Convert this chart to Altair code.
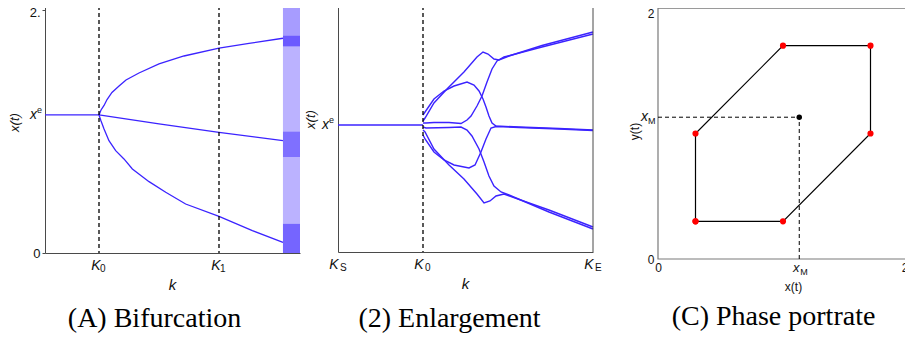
import altair as alt
import pandas as pd

BLUE = "#3b23ff"
AXIS_GRAY = "#4a4a4a"
FRAME_GRAY = "#7a7a7a"
SANS = "Liberation Sans"
SERIF = "Liberation Serif"

# ---------------- Panel A : bifurcation diagram ----------------
A_K_TICKS = [1.0, 2.0]
A_K_SUBS = ["0", "1"]
A_K_RANGE = [0.55, 2.675]
A_V_RANGE = [0.0, 2.09]
A_XE = 1.136

A_flat_k = [0.55, 1.0]
A_flat_v = [1.136, 1.136]
A_up_k = [1.0, 1.017, 1.042, 1.067, 1.108, 1.167, 1.225, 1.333, 1.5, 1.708, 2.0, 2.25, 2.533]
A_up_v = [1.136, 1.177, 1.214, 1.263, 1.321, 1.374, 1.424, 1.481, 1.556, 1.621, 1.685, 1.724, 1.767]
A_mid_k = [1.0, 1.5, 2.0, 2.533]
A_mid_v = [1.136, 1.063, 0.993, 0.924]
A_low_k = [1.0, 1.017, 1.042, 1.083, 1.139, 1.208, 1.278, 1.417, 1.556, 1.722, 2.0, 2.278, 2.533]
A_low_v = [1.136, 1.086, 1.021, 0.924, 0.842, 0.774, 0.691, 0.587, 0.5, 0.403, 0.302, 0.184, 0.088]

# chaotic region after the last bifurcation, drawn as density bands
A_chaos_k = [2.533, 2.675]
A_chaos_lo = [0.0, 0.24, 0.79, 1.0, 1.70, 1.79]
A_chaos_hi = [0.24, 0.79, 1.0, 1.70, 1.79, 2.04]
A_chaos_density = [0.7, 0.35, 0.65, 0.35, 0.75, 0.45]

# ---------------- Panel B : enlargement ----------------
B_K_TICKS = [0.0, 1.0, 3.0]
B_K_SUBS = ["S", "0", "E"]
B_K_RANGE = [0.0, 3.0]
B_V_RANGE = [0.0, 2.53]
B_XE = 1.27
B_K0 = 1.0
B_KE = 3.0

B_flat_k = [0.0, 1.0]
B_flat_v = [1.27, 1.27]
B_ua_k = [1.0, 1.024, 1.129, 1.282, 1.482, 1.635, 1.706, 1.765, 1.835, 1.894, 2.012, 2.4, 3.0]
B_ua_v = [1.31, 1.34, 1.49, 1.63, 1.80, 1.95, 2.00, 1.98, 1.93, 1.92, 1.96, 2.065, 2.20]
B_ub_k = [1.0, 1.024, 1.129, 1.247, 1.365, 1.518, 1.6, 1.659, 1.706, 1.741, 1.776, 1.812, 1.859, 2.129, 2.6, 3.0]
B_ub_v = [1.37, 1.40, 1.53, 1.61, 1.66, 1.70, 1.67, 1.61, 1.53, 1.45, 1.36, 1.29, 1.26, 1.25, 1.235, 1.22]
B_uc_k = [1.0, 1.035, 1.129, 1.306, 1.447, 1.518, 1.565, 1.635, 1.694, 1.753, 1.812, 1.871, 1.953, 2.4, 3.0]
B_uc_v = [1.29, 1.29, 1.295, 1.295, 1.285, 1.32, 1.36, 1.46, 1.56, 1.70, 1.83, 1.91, 1.95, 2.05, 2.18]
B_la_k = [1.0, 1.024, 1.129, 1.306, 1.482, 1.635, 1.718, 1.788, 1.859, 1.953, 2.482, 3.0]
B_la_v = [1.22, 1.20, 1.03, 0.87, 0.73, 0.58, 0.49, 0.51, 0.56, 0.58, 0.42, 0.25]
B_lb_k = [1.0, 1.024, 1.129, 1.247, 1.365, 1.541, 1.612, 1.682, 1.741, 1.8, 1.859, 2.129, 2.6, 3.0]
B_lb_v = [1.17, 1.13, 1.00, 0.92, 0.87, 0.84, 0.87, 1.00, 1.13, 1.24, 1.255, 1.245, 1.23, 1.215]
B_lc_k = [1.0, 1.035, 1.306, 1.447, 1.518, 1.576, 1.659, 1.718, 1.776, 1.835, 1.918, 2.012, 2.482, 3.0]
B_lc_v = [1.25, 1.24, 1.245, 1.25, 1.22, 1.16, 1.03, 0.90, 0.76, 0.66, 0.60, 0.57, 0.40, 0.23]

# ---------------- Panel C : phase portrait ----------------
C_RANGE_X = [-0.216, 2.0]
C_RANGE_Y = [0.0, 2.072]
C_XM = 1.13
C_orbit_x = [0.3, 1.0, 1.7, 1.7, 1.0, 0.3, 0.3]
C_orbit_y = [0.3, 0.3, 1.0, 1.7, 1.7, 1.0, 0.3]

# layout (pixels)
A_W, A_H = 255, 254
B_W, B_H = 255, 253
C_W, C_H = 277, 260
C_INSET = 27  # frame starts this far inside the C plot area


def curves(named):
    rows = []
    for name, ks, vs in named:
        for i, (k, v) in enumerate(zip(ks, vs)):
            rows.append({"curve": name, "i": i, "k": k, "v": v})
    return pd.DataFrame(rows)


def sub_labels(ticks, subs, main, h, dx_main, sub_dx, sub_dy, xscale):
    df = pd.DataFrame({"k": ticks, "main": [main] * len(ticks), "sub": subs})
    m = alt.Chart(df).mark_text(font=SANS, fontStyle="italic", fontSize=14, align="center",
                                baseline="top", dx=dx_main, color="#111").encode(
        x=alt.X("k:Q", scale=xscale), y=alt.value(h + 6), text="main:N")
    s = alt.Chart(df).mark_text(font=SANS, fontSize=10, align="left", baseline="top",
                                dx=sub_dx, color="#111").encode(
        x=alt.X("k:Q", scale=xscale), y=alt.value(h + 6 + sub_dy), text="sub:N")
    return m + s


def left_label(value, main, small, small_dy, yscale, xpix):
    df = pd.DataFrame({"v": [value], "main": [main], "small": [small]})
    m = alt.Chart(df).mark_text(font=SANS, fontStyle="italic", fontSize=14, align="right",
                                baseline="middle", color="#111").encode(
        x=alt.value(xpix), y=alt.Y("v:Q", scale=yscale), text="main:N")
    s = alt.Chart(df).mark_text(font=SANS, fontSize=9, align="left", baseline="middle",
                                dy=small_dy, color="#111").encode(
        x=alt.value(xpix), y=alt.Y("v:Q", scale=yscale), text="small:N")
    return m + s


def caption(text, offset, dx):
    return alt.TitleParams(text, orient="bottom", font=SERIF, fontSize=28, fontWeight="normal",
                           color="black", baseline="alphabetic", offset=offset, dx=dx)


# ---------- Panel A ----------
sxA = alt.Scale(domain=A_K_RANGE, nice=False, zero=False)
syA = alt.Scale(domain=A_V_RANGE, nice=False, zero=False)
dfA = curves([("flat", A_flat_k, A_flat_v), ("up", A_up_k, A_up_v),
              ("mid", A_mid_k, A_mid_v), ("low", A_low_k, A_low_v)])
linesA = alt.Chart(dfA).mark_line(color=BLUE, strokeWidth=1.3).encode(
    x=alt.X("k:Q", scale=sxA, axis=alt.Axis(
        labels=False, ticks=False, grid=False, domainColor=AXIS_GRAY, title="k",
        titleFont=SANS, titleFontStyle="italic", titleFontWeight="normal", titleFontSize=15,
        titleColor="#111", titleX=127, titleY=31, titleAlign="center", titleBaseline="middle")),
    y=alt.Y("v:Q", scale=syA, axis=alt.Axis(
        values=[0, 2], labelExpr="datum.value == 2 ? '2.' : '0'", tickSize=3,
        tickColor=AXIS_GRAY, domainColor=AXIS_GRAY, grid=False, labelFont=SANS,
        labelFontSize=13, labelColor="#111", labelPadding=2,
        labelOffset={"condition": {"test": "datum.value == 2", "value": 3}, "value": 0},
        title="x(t)",
        titleFont=SANS, titleFontStyle="italic", titleFontWeight="normal", titleFontSize=13,
        titleColor="#111", titleX=-31, titleY=123, titleAngle=-90, titleAlign="center",
        titleBaseline="middle")),
    detail="curve:N", order="i:Q")
chaosA = alt.Chart(pd.DataFrame({
    "k": [A_chaos_k[0]] * len(A_chaos_lo), "k2": [A_chaos_k[1]] * len(A_chaos_lo),
    "v": A_chaos_lo, "v2": A_chaos_hi, "density": A_chaos_density})).mark_rect(color=BLUE).encode(
    x=alt.X("k:Q", scale=sxA), x2="k2:Q", y=alt.Y("v:Q", scale=syA), y2="v2:Q",
    opacity=alt.Opacity("density:Q", scale=None, legend=None))
dashA = alt.Chart(pd.DataFrame({"k": A_K_TICKS})).mark_rule(
    color="black", strokeDash=[4, 3], strokeWidth=1.3).encode(x=alt.X("k:Q", scale=sxA))
panelA = alt.layer(
    chaosA, linesA, dashA,
    sub_labels(A_K_TICKS, A_K_SUBS, "K", A_H, -3, 1, 5, sxA),
    left_label(A_XE, "x", "e", -5, syA, -8),
).properties(width=A_W, height=A_H, title=caption("(A) Bifurcation", 35, -18))

# ---------- Panel B ----------
sxB = alt.Scale(domain=B_K_RANGE, nice=False, zero=False)
syB = alt.Scale(domain=B_V_RANGE, nice=False, zero=False)
dfB = curves([("flat", B_flat_k, B_flat_v),
              ("ua", B_ua_k, B_ua_v), ("ub", B_ub_k, B_ub_v), ("uc", B_uc_k, B_uc_v),
              ("la", B_la_k, B_la_v), ("lb", B_lb_k, B_lb_v), ("lc", B_lc_k, B_lc_v)])
linesB = alt.Chart(dfB).mark_line(color=BLUE, strokeWidth=1.4).encode(
    x=alt.X("k:Q", scale=sxB, axis=alt.Axis(
        labels=False, ticks=False, grid=False, domainColor=AXIS_GRAY, title="k",
        titleFont=SANS, titleFontStyle="italic", titleFontWeight="normal", titleFontSize=15,
        titleColor="#111", titleX=127, titleY=31, titleAlign="center", titleBaseline="middle")),
    y=alt.Y("v:Q", scale=syB, axis=alt.Axis(
        labels=False, ticks=False, grid=False, domainColor=AXIS_GRAY, title="x(t)",
        titleFont=SANS, titleFontStyle="italic", titleFontWeight="normal", titleFontSize=13,
        titleColor="#111", titleX=-28, titleY=120, titleAngle=-90, titleAlign="center",
        titleBaseline="middle")),
    detail="curve:N", order="i:Q")
dashB = alt.Chart(pd.DataFrame({"k": [B_K0]})).mark_rule(
    color="black", strokeDash=[4, 3], strokeWidth=1.3).encode(x=alt.X("k:Q", scale=sxB))
edgeB = alt.Chart(pd.DataFrame({"k": [B_KE]})).mark_rule(
    color=AXIS_GRAY, strokeWidth=1).encode(x=alt.X("k:Q", scale=sxB))
panelB = alt.layer(
    linesB, dashB, edgeB,
    sub_labels(B_K_TICKS, B_K_SUBS, "K", B_H, -4, 2, 5, sxB),
    left_label(B_XE, "x", "e", -5, syB, -9),
).properties(width=B_W, height=B_H, title=caption("(2) Enlargement", 36, -16))

# ---------- Panel C ----------
sxC = alt.Scale(domain=C_RANGE_X, nice=False, zero=False)
syC = alt.Scale(domain=C_RANGE_Y, nice=False, zero=False)
orbit = pd.DataFrame({"x": C_orbit_x, "y": C_orbit_y, "i": list(range(len(C_orbit_x)))})
frameC = alt.Chart(pd.DataFrame({"x": [0.0], "x2": [2.0], "y": [0.0], "y2": [2.0]})).mark_rect(
    filled=False, stroke=FRAME_GRAY, strokeWidth=1.2).encode(
    x=alt.X("x:Q", scale=sxC, axis=alt.Axis(
        values=[0, 2], format="d", domain=False, ticks=False, grid=False, labelFont=SANS,
        labelFontSize=12, labelColor="#111", labelPadding=3, title="x(t)", titleFont=SANS,
        titleFontWeight="normal", titleFontSize=12, titleColor="#111", titleX=162, titleY=27,
        titleAlign="center", titleBaseline="middle")),
    x2="x2:Q",
    y=alt.Y("y:Q", scale=syC, axis=alt.Axis(
        values=[0, 2], format="d", domain=False, ticks=False, grid=False, labelFont=SANS,
        labelFontSize=12, labelColor="#111", labelPadding=4, offset=-C_INSET,
        labelBaseline={"condition": {"test": "datum.value == 2", "value": "top"}, "value": "middle"},
        title="y(t)", titleFont=SANS,
        titleFontWeight="normal", titleFontSize=12, titleColor="#111", titleX=-24, titleY=132,
        titleAngle=-90, titleAlign="center", titleBaseline="middle")),
    y2="y2:Q")
hdash = alt.Chart(pd.DataFrame({"x": [0.0], "x2": [C_XM], "y": [C_XM]})).mark_rule(
    color="black", strokeDash=[4, 3], strokeWidth=1).encode(
    x=alt.X("x:Q", scale=sxC), x2="x2:Q", y=alt.Y("y:Q", scale=syC))
vdash = alt.Chart(pd.DataFrame({"x": [C_XM], "y": [0.0], "y2": [C_XM]})).mark_rule(
    color="black", strokeDash=[4, 3], strokeWidth=1).encode(
    x=alt.X("x:Q", scale=sxC), y=alt.Y("y:Q", scale=syC), y2="y2:Q")
orbitLine = alt.Chart(orbit).mark_line(color="black", strokeWidth=1.2).encode(
    x=alt.X("x:Q", scale=sxC), y=alt.Y("y:Q", scale=syC), order="i:Q")
orbitPts = alt.Chart(orbit).mark_circle(color="#ff0000", size=38, opacity=1).encode(
    x=alt.X("x:Q", scale=sxC), y=alt.Y("y:Q", scale=syC))
fixedPt = alt.Chart(pd.DataFrame({"x": [C_XM], "y": [C_XM]})).mark_circle(
    color="black", size=30, opacity=1).encode(x=alt.X("x:Q", scale=sxC), y=alt.Y("y:Q", scale=syC))
xmX = pd.DataFrame({"k": [C_XM], "main": ["x"], "sub": ["M"]})
xmXmain = alt.Chart(xmX).mark_text(font=SANS, fontStyle="italic", fontSize=13, align="center",
                                   baseline="top", dx=-3, color="#111").encode(
    x=alt.X("k:Q", scale=sxC), y=alt.value(C_H + 3), text="main:N")
xmXsub = alt.Chart(xmX).mark_text(font=SANS, fontSize=9, align="left", baseline="top",
                                  dx=1, color="#111").encode(
    x=alt.X("k:Q", scale=sxC), y=alt.value(C_H + 9), text="sub:N")
panelC = alt.layer(
    frameC, hdash, vdash, orbitLine, orbitPts, fixedPt, xmXmain, xmXsub,
    left_label(C_XM, "x", "M", 4, syC, C_INSET - 10),
).properties(width=C_W, height=C_H, title=caption("(C) Phase portrate", 33, 4))

chart = alt.hconcat(panelA, panelB, panelC, spacing=38, bounds="flush").properties(
    padding={"left": 0, "top": -10, "right": -4, "bottom": 0}
).configure_view(strokeWidth=0).configure_axis(domainWidth=1)

chart.save("out.html", embed_options={"renderer": "svg", "actions": False})
